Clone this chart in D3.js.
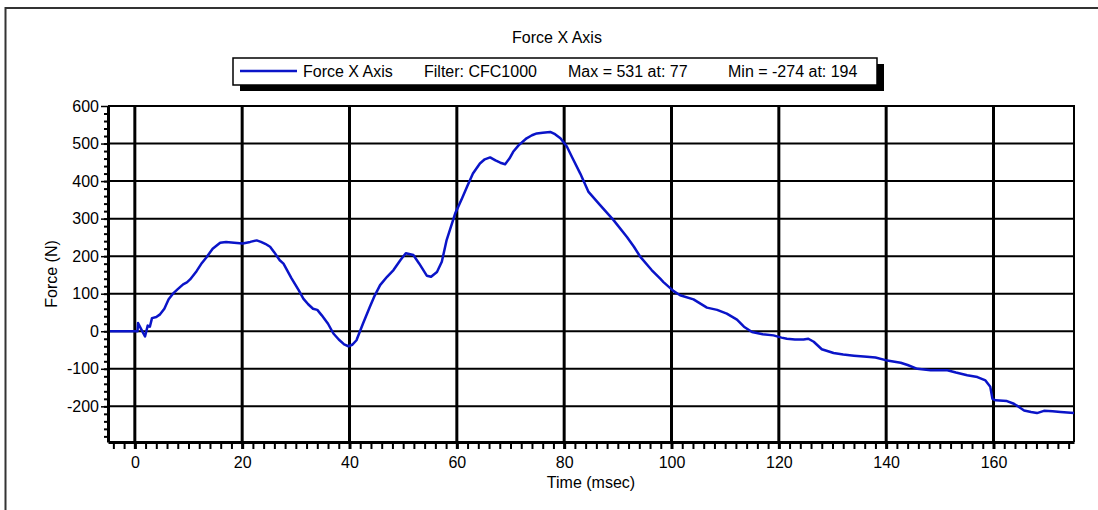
<!DOCTYPE html>
<html>
<head>
<meta charset="utf-8">
<script src="https://cdn.jsdelivr.net/npm/d3@7"></script>
<style>
body { margin:0; background:#fff; }
text { font-family:"Liberation Sans", Arial, sans-serif; font-size:16px; fill:#000; }
</style>
</head>
<body>
<div class="content"></div>
<script>
var size = {width:1098, height:510};
var padding = {left:108, right:24, top:106, bottom:68};

// Data
var chartTitle = "Force X Axis";
var legendItems = ["Force X Axis", "Filter: CFC1000", "Max = 531 at: 77", "Min = -274 at: 194"];
var xTicks = [0, 20, 40, 60, 80, 100, 120, 140, 160];
var yTicks = [-200, -100, 0, 100, 200, 300, 400, 500, 600];
var timeMs = [-5, 0.5, 0.6, 1.2, 1.9, 2.4, 2.8, 3.2, 4.0, 4.7, 5.5, 6.3, 7.1, 8.0, 9.0, 9.7,
    10.3, 11.5, 12.5, 13.4, 14.5, 15.9, 17, 18.5, 20.1, 21.5, 22.7, 23.5, 24.3, 25.2, 26, 27,
    27.7, 29.2, 30.5, 31.4, 32.3, 33.2, 34.0, 34.8, 36, 37, 38, 39, 39.8, 40.5, 41.3, 42.5,
    43.8, 44.7, 45.7, 47, 48.2, 49.5, 50.5, 51.9, 53, 54.4, 55.2, 56.3, 57.2, 58.1, 59.7, 61,
    61.9, 63, 64.3, 65.2, 66.2, 67.2, 68.1, 69, 69.8, 70.5, 71.5, 73, 74, 74.9, 76, 77.4,
    78.3, 79.3, 80.5, 81.5, 83, 84.5, 86.7, 89.2, 91.7, 93, 94.2, 96.3, 97.9, 98.5, 100.4,
    101.6, 104.1, 106.6, 108.5, 110.3, 112.2, 113.5, 115, 117, 119, 120.5, 121.5, 123, 124.6,
    125.5, 126.5, 128, 130.2, 132, 134, 136.4, 138, 139.9, 142.7, 144, 145.8, 148.3, 151.4,
    153, 155.1, 157, 158.5, 159.4, 159.8, 160.4, 162.5, 163.8, 165.7, 167, 168.1, 169.4, 171,
    172.5, 175];
var forceN = [0, 0, 22, 5, -14, 15, 12, 35, 38, 45, 60, 85, 100, 112, 125, 130,
    138, 160, 182, 198, 220, 236, 238, 236, 234, 238, 242, 238, 233, 225, 210, 189,
    180, 141, 110, 87, 72, 60, 57, 43, 20, -6, -22, -35, -40, -36, -24, 20,
    65, 95, 123, 145, 163, 190, 208, 203, 180, 148, 145, 158, 185, 243, 314, 355,
    385, 420, 447, 458, 463, 455, 449, 445, 460, 478, 495, 514, 522, 527, 529, 531,
    525, 514, 492, 463, 420, 372, 336, 296, 251, 225, 198, 163, 140, 131, 107,
    96, 85, 63, 57, 47, 31, 12, -2, -8, -11, -17, -20, -22, -22,
    -20, -28, -48, -58, -62, -65, -68, -70, -77, -84, -90, -100, -104, -104,
    -110, -117, -122, -131, -148, -180, -184, -186, -193, -211, -215, -218, -212, -213,
    -215, -218];

var data = timeMs.map(function(t, i) { return [t, forceN[i]]; });
var xMinor = d3.range(-4, 175, 2);
var yMinor = d3.range(-280, 600, 20);
var plainNum = function(d) { return String(d); }; // hyphen minus like the original

var chart = d3.select('.content')
    .append('svg:svg')
    .attr('width', size.width)
    .attr('height', size.height)
    .attr('class', 'chart');

chart.append('rect').attr('width', size.width).attr('height', size.height).attr('fill', '#fff');

// outer frame (only top and left edges are visible)
chart.append('path')
    .attr('d', 'M5.5,' + size.height + 'V8H' + size.width)
    .attr('fill', 'none').attr('stroke', '#333').attr('stroke-width', 2);

var x0 = padding.left, x1 = size.width - padding.right;
var y0 = padding.top, y1 = size.height - padding.bottom;

var xScale = d3.scaleLinear().domain([-5, 175]).range([x0, x1]);
var yScale = d3.scaleLinear().domain([-295, 600]).range([y1, y0]);

// Title
chart.append('text')
    .attr('x', 557).attr('y', 43)
    .attr('text-anchor', 'middle')
    .text(chartTitle);

// Legend with drop shadow
var legend = {x:233, y:58, w:644, h:27};
chart.append('rect')
    .attr('x', legend.x + 7).attr('y', legend.y + 6)
    .attr('width', legend.w).attr('height', legend.h)
    .attr('fill', '#000');
chart.append('rect')
    .attr('x', legend.x).attr('y', legend.y)
    .attr('width', legend.w).attr('height', legend.h)
    .attr('fill', '#fff').attr('stroke', '#000').attr('stroke-width', 1.5);
chart.append('line')
    .attr('x1', 240).attr('x2', 297).attr('y1', 71).attr('y2', 71)
    .attr('stroke', '#0a14c8').attr('stroke-width', 2.5);
var legendX = [303, 424, 568, 728];
chart.selectAll('text.legend').data(legendItems).enter().append('text')
    .attr('class', 'legend')
    .attr('x', function(d, i) { return legendX[i]; })
    .attr('y', 77)
    .text(function(d) { return d; });

// Grid lines
chart.append('g').selectAll('line').data(yTicks.slice(0, -1)).enter().append('line')
    .attr('x1', x0).attr('x2', x1)
    .attr('y1', function(d) { return yScale(d); })
    .attr('y2', function(d) { return yScale(d); })
    .attr('stroke', '#000').attr('stroke-width', 2);
chart.append('g').selectAll('line').data(xTicks).enter().append('line')
    .attr('y1', y0).attr('y2', y1)
    .attr('x1', function(d) { return xScale(d); })
    .attr('x2', function(d) { return xScale(d); })
    .attr('stroke', '#000').attr('stroke-width', 3);

// top and right borders
chart.append('path')
    .attr('d', 'M' + x0 + ',' + y0 + 'H' + x1 + 'V' + y1)
    .attr('fill', 'none').attr('stroke', '#000').attr('stroke-width', 2);

// Data line
var line = d3.line()
    .x(function(d) { return xScale(d[0]); })
    .y(function(d) { return yScale(d[1]); });
chart.append('path')
    .datum(data)
    .attr('d', line)
    .attr('fill', 'none')
    .attr('stroke', '#0a14c8')
    .attr('stroke-width', 2.5)
    .attr('stroke-linejoin', 'round');

// Axes: minor ticks
chart.append('g')
    .attr('class', 'axis')
    .attr('transform', 'translate(' + x0 + ',0)')
    .call(d3.axisLeft(yScale).tickValues(yMinor).tickSize(4).tickSizeOuter(0).tickFormat(''))
    .call(function(g) { g.select('.domain').remove(); g.selectAll('line').attr('stroke-width', 2); });
chart.append('g')
    .attr('class', 'axis')
    .attr('transform', 'translate(0,' + y1 + ')')
    .call(d3.axisBottom(xScale).tickValues(xMinor).tickSize(7).tickSizeOuter(0).tickFormat(''))
    .call(function(g) { g.select('.domain').remove(); g.selectAll('line').attr('stroke-width', 2); });

// Axes: major ticks and labels
var yAxisObj = chart.append('g')
    .attr('transform', 'translate(' + x0 + ',0)')
    .call(d3.axisLeft(yScale).tickValues(yTicks).tickFormat(plainNum).tickSize(7).tickPadding(2).tickSizeOuter(0));
yAxisObj.select('.domain').attr('stroke-width', 3).attr('stroke', '#000');
yAxisObj.selectAll('line').attr('stroke-width', 1.5);
yAxisObj.selectAll('text').style('font-size', '16px').attr('fill', '#000');

var xAxisObj = chart.append('g')
    .attr('transform', 'translate(0,' + y1 + ')')
    .call(d3.axisBottom(xScale).tickValues(xTicks).tickFormat(plainNum).tickSize(7).tickPadding(8).tickSizeOuter(0));
xAxisObj.select('.domain').attr('stroke-width', 3).attr('stroke', '#000');
xAxisObj.selectAll('line').attr('stroke-width', 3);
xAxisObj.selectAll('text').style('font-size', '16px').attr('fill', '#000');
chart.selectAll('.tick text').style('font-family', '"Liberation Sans", Arial, sans-serif');

// Axis titles
chart.append('text')
    .attr('x', (x0 + x1) / 2).attr('y', 488)
    .attr('text-anchor', 'middle')
    .text('Time (msec)');
chart.append('text')
    .attr('transform', 'translate(57,' + ((y0 + y1) / 2) + ') rotate(-90)')
    .attr('text-anchor', 'middle')
    .text('Force (N)');
</script>
</body>
</html>
